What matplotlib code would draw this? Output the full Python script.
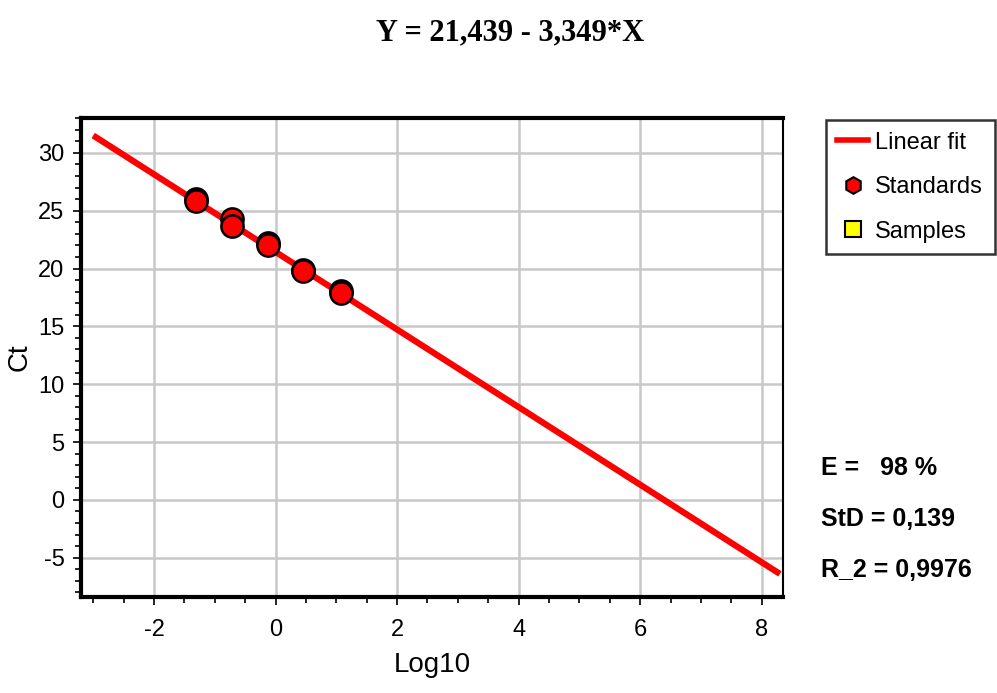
import matplotlib.pyplot as plt
from matplotlib.lines import Line2D
from matplotlib.ticker import MultipleLocator

# standard curve data (duplicates per dilution)
std_x = [-1.31, -1.31, -0.72, -0.72, -0.13, -0.13, 0.46, 0.46, 1.08, 1.08]
std_ct = [26.0, 25.8, 24.3, 23.7, 22.2, 22.0, 19.9, 19.8, 18.1, 17.9]

# fitted line endpoints
fit_x = [-3.0, 8.3]
fit_y = [31.5, -6.4]

title_txt = "Y = 21,439 - 3,349*X"
stats = ["E =   98 %", "StD = 0,139", "R_2 = 0,9976"]

plt.rcParams['font.family'] = ['Liberation Sans Narrow', 'Liberation Sans', 'DejaVu Sans']
plt.rcParams['axes.unicode_minus'] = False

fig = plt.figure(figsize=(9.97, 6.93), dpi=100)
ax = fig.add_axes([0.0813, 0.1385, 0.704, 0.691])

ax.plot(fit_x, fit_y, color='red', lw=4.5, solid_capstyle='butt', zorder=3)
ax.plot(std_x, std_ct, 'o', color='red', ms=16, mec='black', mew=1.8, zorder=4)

ax.set_xlim(-3.2, 8.35)
ax.set_ylim(-8.4, 33)
ax.xaxis.set_major_locator(MultipleLocator(2))
ax.xaxis.set_minor_locator(MultipleLocator(0.5))
ax.yaxis.set_major_locator(MultipleLocator(5))
ax.yaxis.set_minor_locator(MultipleLocator(1))
ax.grid(True, which='major', color='#c8c8c8', lw=1.8)
ax.set_axisbelow(True)

ax.tick_params(which='major', length=6, width=1.2, labelsize=17, colors='black')
ax.tick_params(which='minor', length=4, width=1.2)
ax.tick_params(axis='x', pad=10)
ax.tick_params(axis='y', pad=6)
for side in ['left', 'bottom', 'top']:
    ax.spines[side].set_linewidth(3)
ax.spines['right'].set_linewidth(1.5)

ax.set_xlabel("Log10", fontsize=20, labelpad=8)
ax.set_ylabel("Ct", fontsize=20, labelpad=4)

fig.text(0.512, 0.952, title_txt, ha='center', va='center', fontsize=22,
         fontweight='bold', family=['Liberation Serif', 'DejaVu Serif'])

handles = [
    Line2D([], [], color='red', lw=4),
    Line2D([], [], marker='h', ls='', color='red', mec='black', ms=12, mew=1.5),
    Line2D([], [], marker='s', ls='', color='yellow', mec='black', ms=11, mew=1.5),
]
leg = fig.legend(handles, ["Linear fit", "Standards", "Samples"],
                 loc='upper left', bbox_to_anchor=(0.828, 0.827),
                 fontsize=17, frameon=True, fancybox=False, edgecolor='black',
                 handlelength=1.3, handletextpad=0.3, borderpad=0.5,
                 labelspacing=0.95, borderaxespad=0)
leg.get_frame().set_linewidth(1.8)

for i, s in enumerate(stats):
    fig.text(0.823, 0.325 - i * 0.074, s, ha='left', va='center',
             fontsize=18, fontweight='bold')

fig.savefig("out.png", dpi=100)
